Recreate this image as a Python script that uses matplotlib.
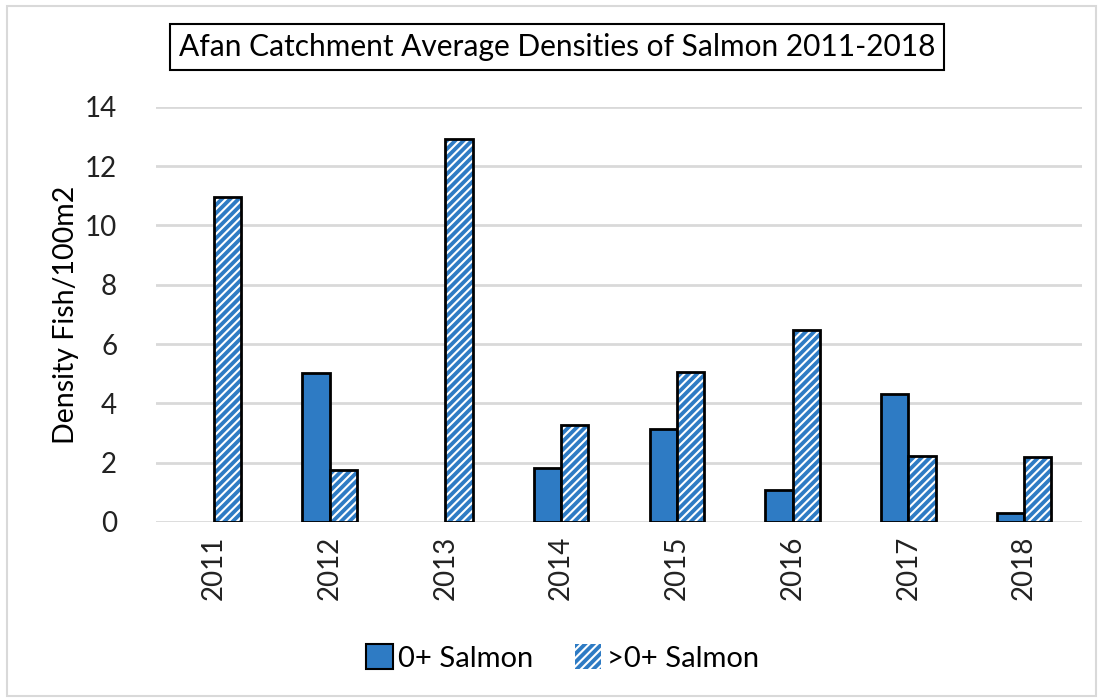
import numpy as np
import matplotlib.pyplot as plt
from matplotlib.patches import Rectangle, Patch

years = ['2011', '2012', '2013', '2014', '2015', '2016', '2017', '2018']
salmon_0 = [0.0, 5.02, 0.0, 1.81, 3.13, 1.08, 4.31, 0.31]
salmon_gt0 = [10.96, 1.76, 12.91, 3.27, 5.07, 6.48, 2.24, 2.20]

blue = '#2E7BC4'
plt.rcParams['font.family'] = ['Lato', 'DejaVu Sans']
plt.rcParams['hatch.linewidth'] = 1.5

fig = plt.figure(figsize=(11.03, 7.0), dpi=100)
ax = fig.add_axes([0.1415, 0.2543, 0.8395, 0.593])

x = np.arange(len(years))
w = 0.235

# 0+ salmon, solid bars (no outline where there is no bar)
edges_0 = ['black' if v > 0 else 'none' for v in salmon_0]
ax.bar(x - w / 2, salmon_0, w, color=blue, edgecolor=edges_0, linewidth=2, zorder=3)
# >0+ salmon, blue/white striped bars
ax.bar(x + w / 2, salmon_gt0, w, color=blue, edgecolor='white', hatch='////',
       linewidth=0, zorder=3)
ax.bar(x + w / 2, salmon_gt0, w, fill=False, edgecolor='black', linewidth=2, zorder=4)

ax.set_xlim(-0.5, len(years) - 0.5)
ax.set_ylim(0, 14)
ax.set_yticks(range(0, 15, 2))
ax.set_xticks(x)
ax.set_xticklabels(years, rotation=90)
ax.tick_params(length=0, labelsize=20, colors='#222222', pad=10)
ax.tick_params(axis='y', pad=28)
ax.yaxis.grid(True, color='#d9d9d9', linewidth=2)
for s in ax.spines.values():
    s.set_visible(False)
ax.set_ylabel('Density Fish/100m2', fontsize=20.5, labelpad=4)

# title in a box
fig.text(0.505, 0.933, 'Afan Catchment Average Densities of Salmon 2011-2018',
         ha='center', va='center', fontsize=21.5,
         bbox=dict(boxstyle='square,pad=0.3', facecolor='white', edgecolor='black', lw=1.5))

handles = [Patch(facecolor=blue, edgecolor='black', lw=1.5),
           Patch(facecolor=blue, edgecolor='white', hatch='////', lw=0)]
leg = fig.legend(handles, ['0+ Salmon', '>0+ Salmon'], loc='center', ncol=2,
                 bbox_to_anchor=(0.51, 0.06), frameon=False, fontsize=21,
                 handlelength=0.9, handleheight=0.9, handletextpad=0.2, columnspacing=1.4)

# outer chart border
fig.patches.append(Rectangle((0.006, 0.006), 0.988, 0.985, transform=fig.transFigure,
                             fill=False, edgecolor='#d9d9d9', lw=1.5))

plt.savefig('out.png', dpi=100)
